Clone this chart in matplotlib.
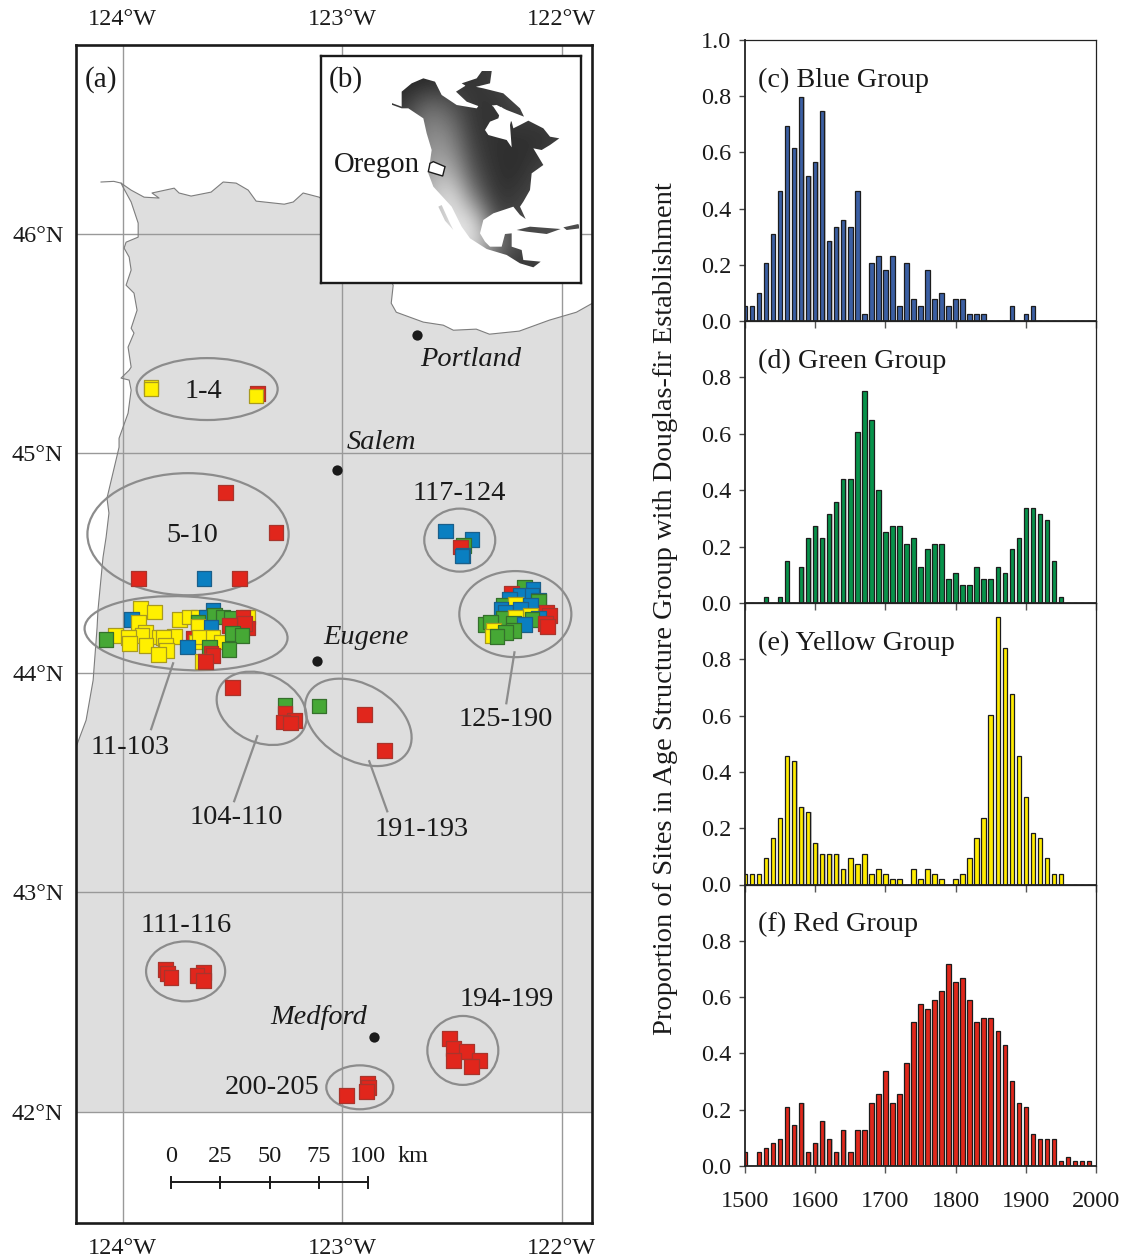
import numpy as np
import matplotlib
matplotlib.use("Agg")
import matplotlib.pyplot as plt
from matplotlib.patches import Ellipse, Polygon, PathPatch
from matplotlib.path import Path

plt.rcParams['font.family'] = ['Liberation Serif', 'DejaVu Serif']

W, H = 1125, 1259

# ---------- histogram data ----------
years = list(range(1500, 2000, 10))
blue_vals = [.052,.052,.10,.205,.308,.463,.694,.617,.796,.515,.565,.746,.283,.333,.36,.333,.463,.026,.205,.231,
             .18,.231,.052,.205,.077,.052,.18,.077,.10,.052,.077,.077,.026,.026,.026,0,0,0,.052,0,.026,.052,0,0,0,0,0,0,0,0]
green_vals = [0,0,0,.023,0,.023,.148,0,.127,.231,.272,.231,.316,.357,.439,.439,.606,.753,.649,.399,
              .251,.272,.272,.21,.231,.127,.19,.21,.21,.084,.106,.064,.064,.127,.084,.084,.127,.106,.19,.231,
              .336,.336,.316,.294,.148,.023,0,0,0,0]
yellow_vals = [.037,.037,.037,.093,.165,.238,.457,.438,.274,.256,.146,.11,.11,.11,.056,.093,.074,.11,.037,.056,
               .037,.018,.018,0,.056,.018,.056,.037,.018,0,.018,.037,.093,.165,.238,.603,.949,.84,.676,.457,
               .31,.183,.165,.093,.037,.037,0,0,0,0]
red_vals = [.049,0,.049,.065,.081,.096,.209,.145,.223,.049,.081,.16,.096,.049,.128,.049,.128,.128,.223,.255,
            .336,.223,.255,.367,.51,.575,.558,.59,.622,.718,.654,.669,.59,.51,.525,.525,.479,.431,.302,.223,
            .209,.113,.096,.096,.096,.017,.033,.017,.017,.017]
panel_titles = ['(c) Blue Group', '(d) Green Group', '(e) Yellow Group', '(f) Red Group']
panel_colors = ['#3b5fa3', '#07924a', '#ffec00', '#e0271b']
y_ticks = [0, .2, .4, .6, .8]
x_ticks = [1500, 1600, 1700, 1800, 1900, 2000]

# ---------- map data ----------
west_lon = [-124.212,-124.212,-124.166,-124.134,-124.116,-124.112,-124.089,-124.075,-124.062,-124.071,-124.016,-124.016,
            -123.975,-123.961,-123.970,-124.007,-123.970,-123.961,-123.975,-123.948,-123.961,-123.934,-123.948,-123.984,
            -123.961,-123.970,-123.993,-123.984,-123.929,-123.929,-123.961,-123.998,-124.007]
west_lat = [42.0,43.661,43.784,43.966,44.207,44.285,44.526,44.617,44.727,44.795,45.027,45.068,
            45.182,45.287,45.333,45.342,45.378,45.392,45.483,45.547,45.569,45.651,45.729,45.765,
            45.834,45.893,45.934,45.961,45.984,46.048,46.144,46.212,46.230]
north_lon = [-123.961,-123.902,-123.834,-123.866,-123.765,-123.743,-123.688,-123.597,-123.542,-123.483,-123.428,-123.392,
             -123.264,-123.223,-123.178,-123.105,-122.918,-122.768,-122.777,-122.754,-122.631,-122.540,-122.494,-122.390,
             -122.330,-122.194,-122.057,-121.934,-121.861]
north_lat = [46.198,46.166,46.162,46.185,46.207,46.185,46.171,46.189,46.235,46.230,46.198,46.148,
             46.134,46.144,46.185,46.166,46.016,45.765,45.683,45.642,45.597,45.583,45.560,45.565,
             45.542,45.556,45.606,45.642,45.683]
corner_lon = [-121.861]
corner_lat = [42.0]
spit_lon = [-124.098, -124.04, -124.007]
spit_lat = [46.235, 46.238, 46.230]

lon_ticks = [-124, -123, -122]
lon_labels = ['124°W', '123°W', '122°W']
lat_ticks = [46, 45, 44, 43, 42]
lat_labels = ['46°N', '45°N', '44°N', '43°N', '42°N']

city_lon = [-122.658, -123.023, -123.114, -122.854]
city_lat = [45.538, 44.923, 44.052, 42.339]

ell_lon = [-123.615,-123.702,-123.711,-122.465,-122.212,-123.367,-122.927,-123.713,-122.451,-122.920]
ell_lat = [45.292,44.631,44.180,44.604,44.267,43.838,43.774,42.640,42.280,42.112]
ell_w = [.642,.916,.925,.323,.510,.428,.524,.360,.323,.305]
ell_h = [.282,.556,.335,.287,.392,.31,.346,.273,.314,.200]
ell_ang = [0,0,-3,0,0,-25,-30,0,0,0]

lead_lon = [(-123.770,-123.870),(-122.216,-122.253),(-123.387,-123.492),(-122.877,-122.795)]
lead_lat = [(44.043,43.743),(44.093,43.861),(43.711,43.415),(43.597,43.369)]

site_group = list("RYYY" "RRRBR"
                  "YYBYYYYYYYYYYYYY"
                  "YYYBBGGGYRRRRGYBRYYYYGGRRGGBYRG"
                  "RGRRRRGRR"
                  "BBGRBB"
                  "GBRBBBBGYGBBBBRYRGYBGRGGGBYGRGYG"
                  "RRRRRR" "RRRRRR" "RRRR")
site_lon = [-123.387,-123.392,-123.870,-123.870,
            -123.533,-123.301,-123.929,-123.629,-123.469,
            -123.919,-123.855,-123.958,-123.928,-124.033,-123.896,-123.911,-123.972,-123.969,-123.764,-123.832,-123.814,-123.893,-123.805,-123.799,-123.837,
            -123.741,-123.696,-123.657,-123.589,-123.620,-123.582,-123.543,-123.506,-123.430,-123.452,-123.430,-123.445,-123.513,-123.657,-123.657,-123.597,-123.680,-123.665,-123.650,-123.589,-123.551,-123.498,-123.605,-123.597,-123.589,-123.456,-123.516,-123.703,-123.635,-123.623,-124.075,
            -123.498,-123.260,-123.260,-123.217,-123.270,-123.237,-123.106,-122.898,-122.809,
            -122.531,-122.409,-122.447,-122.462,-122.450,-122.455,
            -122.169,-122.131,-122.231,-122.189,-122.136,-122.106,-122.238,-122.265,-122.212,-122.106,-122.143,-122.277,-122.257,-122.189,-122.071,-122.143,-122.056,-122.265,-122.212,-122.106,-122.136,-122.075,-122.348,-122.326,-122.220,-122.169,-122.311,-122.220,-122.067,-122.257,-122.318,-122.295,
            -123.806,-123.797,-123.779,-123.633,-123.661,-123.633,
            -122.512,-122.494,-122.435,-122.494,-122.376,-122.412,
            -122.982,-122.886,-122.882,-122.891]
site_lat = [45.273,45.260,45.301,45.292,
            44.822,44.640,44.430,44.430,44.430,
            44.292,44.277,44.242,44.229,44.171,44.186,44.171,44.160,44.133,44.166,44.163,44.160,44.125,44.125,44.102,44.084,
            44.242,44.254,44.254,44.285,44.254,44.262,44.254,44.247,44.254,44.251,44.204,44.224,44.216,44.231,44.213,44.209,44.156,44.140,44.163,44.163,44.140,44.179,44.117,44.087,44.080,44.171,44.107,44.117,44.052,44.052,44.151,
            43.934,43.852,43.814,43.784,43.776,43.771,43.849,43.811,43.647,
            44.646,44.607,44.581,44.573,44.535,44.532,
            44.391,44.379,44.361,44.353,44.353,44.330,44.333,44.307,44.312,44.323,44.307,44.288,44.277,44.288,44.277,44.262,44.262,44.247,44.254,44.247,44.242,44.224,44.221,44.231,44.224,44.221,44.194,44.194,44.212,44.183,44.168,44.165,
            42.649,42.631,42.613,42.635,42.622,42.599,
            42.335,42.289,42.275,42.234,42.234,42.207,
            42.075,42.130,42.112,42.093]
site_fill = {'R': '#e1261c', 'Y': '#fff000', 'G': '#46a835', 'B': '#0a7fc1'}
site_edge = {'R': '#a8352c', 'Y': '#a89a20', 'G': '#35702c', 'B': '#1b5f8a'}

scale_km = [0, 25, 50, 75, 100]

# ---------- inset data: outline of North America, inset-map units ----------
mainland = [(150,118),(190,150),(245,170),(245,125),(275,100),(310,85),(345,95),(365,135),(410,165),(470,175),
            (490,150),(520,170),(540,200),(560,205),(575,215),(580,235),(600,225),(625,212),
            (670,235),(690,260),(718,265),(690,285),(665,300),(640,295),(655,320),(670,345),(635,370),(630,420),
            (610,455),(600,470),(617,507),(600,495),(580,470),(520,490),(490,510),(480,550),(495,575),(510,590),
            (545,590),(555,552),(575,550),(575,590),(605,600),(610,630),(662,635),(640,652),(600,640),(560,615),
            (500,597),(450,565),(425,530),(395,470),(340,410),(325,370),(335,300),(320,250),(310,205),(265,175),
            (245,175),(190,155)]
baffin = [(408,125),(440,105),(490,115),(550,130),(600,175),(612,200),(560,180),(530,165),(480,170),(440,155)]
ellesmere = [(425,100),(470,85),(495,50),(517,50),(510,100),(450,115)]
cuba = [(590,540),(630,530),(722,537),(680,552),(620,545)]
antilles = [(730,532),(775,522),(780,535),(740,540)]
baja = [(365,465),(390,520),(400,540),(375,512),(355,470)]
hudson = [(495,240),(510,215),(535,205),(545,170),(555,190),(575,205),(570,225),(575,292),(560,270),(530,262),(505,255)]
oregon_box = [(330,340),(340,335),(375,350),(368,378),(325,365)]
relief_x = [250,320,390,460,530,600,670,740]
relief_y = [100,170,240,310,380,450,520,590,650]
relief = [[.15,.15,.2,.2,.25,.3,.3,.3],
          [.2,.45,.35,.2,.2,.3,.3,.3],
          [.3,.55,.5,.2,.2,.2,.2,.25],
          [.3,.6,.6,.25,.18,.18,.2,.3],
          [.4,.65,.75,.32,.18,.18,.3,.3],
          [.5,.7,.95,.5,.18,.25,.3,.3],
          [.5,.6,.9,.9,.25,.3,.3,.3],
          [.5,.5,.9,.9,.55,.25,.3,.3],
          [.5,.5,.6,.6,.25,.2,.25,.3]]


def rect(x0, y0, x1, y1):
    return [x0 / W, 1 - y1 / H, (x1 - x0) / W, (y1 - y0) / H]


def ftext(x, y, s, **kw):
    kw.setdefault('ha', 'center')
    kw.setdefault('va', 'center')
    kw.setdefault('fontsize', 20.4)
    kw.setdefault('color', '#1a1a1a')
    fig.text(x / W, 1 - (y + 2) / H, s, **kw)


fig = plt.figure(figsize=(W / 100, H / 100), dpi=100, facecolor='white')

# ---------- map ----------
ax = fig.add_axes(rect(76, 45, 592, 1223))
ax.set_xlim(-124.212, -121.863)
ax.set_ylim(41.494, 46.859)
land_lon = west_lon + north_lon + corner_lon
land_lat = west_lat + north_lat + corner_lat
ax.fill(land_lon, land_lat, facecolor='#dedede', edgecolor='none', zorder=1)
ax.plot(west_lon[1:] + north_lon, west_lat[1:] + north_lat, color='#7d7d7d', lw=0.8, zorder=2)
ax.plot(spit_lon, spit_lat, color='#7d7d7d', lw=0.8, zorder=2)
for v in lon_ticks:
    ax.axvline(v, color='#999999', lw=1.0, zorder=1.5)
for v in lat_ticks:
    ax.axhline(v, color='#999999', lw=1.0, zorder=1.5)
ax.set_xticks(lon_ticks, lon_labels, fontsize=17.5, color='#1a1a1a')
ax.set_yticks(lat_ticks, lat_labels, fontsize=17.5, color='#1a1a1a')
ax.tick_params(axis='x', length=0, top=True, labeltop=True, bottom=True, labelbottom=True, pad=11)
ax.tick_params(axis='y', length=0, pad=9)
for s in ax.spines.values():
    s.set_linewidth(1.9)
    s.set_color('#1a1a1a')

for lo, la, w, h, ang in zip(ell_lon, ell_lat, ell_w, ell_h, ell_ang):
    ax.add_patch(Ellipse((lo, la), w, h, angle=ang, fill=False, edgecolor='#8c8c8c', lw=1.6, zorder=3))
for lo, la in zip(lead_lon, lead_lat):
    ax.plot(lo, la, color='#8c8c8c', lw=1.6, zorder=3)
ax.scatter(city_lon, city_lat, s=55, color='#1a1a1a', zorder=4, linewidths=0)
ax.scatter(site_lon, site_lat, marker='s', s=112,
           c=[site_fill[g] for g in site_group],
           edgecolors=[site_edge[g] for g in site_group], linewidths=0.9, zorder=5)

# scale bar
km_deg = 0.00897
scale_x = [-123.779 + k * km_deg for k in scale_km]
ax.plot([scale_x[0], scale_x[-1]], [41.679, 41.679], color='#1a1a1a', lw=1.4, zorder=4)
for sx in scale_x:
    ax.plot([sx, sx], [41.654, 41.704], color='#1a1a1a', lw=1.4, zorder=4)

# ---------- inset ----------
axi = fig.add_axes(rect(321, 56, 581, 283), zorder=6)
axi.set_xlim(3, 783)
axi.set_ylim(699, 18)
axi.set_xticks([])
axi.set_yticks([])
for s in axi.spines.values():
    s.set_linewidth(1.7)
    s.set_color('#1a1a1a')
verts, codes = [], []
for poly in (mainland, baffin, ellesmere, cuba, antilles, baja):
    verts += poly + [poly[0]]
    codes += [Path.MOVETO] + [Path.LINETO] * (len(poly) - 1) + [Path.CLOSEPOLY]
clip = PathPatch(Path(verts, codes), transform=axi.transData, facecolor='none', edgecolor='none')
axi.add_patch(clip)
im = axi.imshow(np.array(relief), cmap='gray', vmin=0, vmax=1, interpolation='bicubic',
                extent=(relief_x[0] - 35, relief_x[-1] + 35, relief_y[-1] + 35, relief_y[0] - 35), aspect='auto')
im.set_clip_path(clip)
axi.set_xlim(3, 783)
axi.set_ylim(699, 18)
axi.add_patch(Polygon(hudson, closed=True, facecolor='white', edgecolor='none', zorder=3))
axi.add_patch(Polygon(oregon_box, closed=True, facecolor='white', edgecolor='#1a1a1a', lw=1.0, zorder=4))

# ---------- map text ----------
ftext(101, 78, '(a)', fontsize=21)
ftext(346, 78, '(b)', fontsize=21, zorder=10)
ftext(377, 163, 'Oregon', fontsize=20.7, zorder=10)
for x, y, s in [(203, 390, '1-4'), (192, 534, '5-10'), (459, 491, '117-124'), (130, 745, '11-103'),
                (506, 717, '125-190'), (236, 816, '104-110'), (422, 827, '191-193'), (186, 923, '111-116'),
                (507, 997, '194-199'), (272, 1085, '200-205')]:
    ftext(x, y, s)
for x, y, s in [(471, 357, 'Portland'), (381, 440, 'Salem'), (366, 636, 'Eugene'), (319, 1016, 'Medford')]:
    ftext(x, y, s, style='italic')
for x, k in zip([171, 220.5, 270, 319, 368], scale_km):
    ftext(x, 1154, str(k), fontsize=17.5)
ftext(413, 1154, 'km', fontsize=17.5)

# ---------- histograms ----------
tops = [40, 321, 603, 884.5]
bottoms = [321, 603, 884.5, 1166]
all_vals = [blue_vals, green_vals, yellow_vals, red_vals]
for i in range(4):
    a = fig.add_axes(rect(745, tops[i], 1096, bottoms[i]))
    a.patch.set_alpha(0)
    a.bar(np.array(years) + 1.6, all_vals[i], width=6.4, color='#c4c4c4', linewidth=0, zorder=1)
    a.bar(years, all_vals[i], width=6.3, color=panel_colors[i], edgecolor='#1c1c1c', linewidth=0.9, zorder=2)
    a.set_xlim(1500, 2000)
    a.set_ylim(0, 1.0)
    a.set_xticks(x_ticks)
    ticks = y_ticks + [1.0] if i == 0 else y_ticks
    a.set_yticks(ticks, [f'{t:.1f}' for t in ticks], fontsize=17.5, color='#1a1a1a')
    a.tick_params(axis='y', length=4, width=1, color='#444444', pad=6)
    a.tick_params(axis='x', length=5, width=1, color='#555555', pad=13, labelsize=17.5, labelcolor='#1a1a1a',
                  labelbottom=(i == 3))
    for name, s in a.spines.items():
        s.set_color('#222222')
        s.set_linewidth(1.3 if name in ('left', 'bottom') else 0.9)
    ftext(758, tops[i] + 38, panel_titles[i], ha='left', fontsize=20.3)

ftext(666, 607, 'Proportion of Sites in Age Structure Group with Douglas-fir Establishment',
      rotation=90, fontsize=20.5)

fig.savefig('out.png', dpi=100)
